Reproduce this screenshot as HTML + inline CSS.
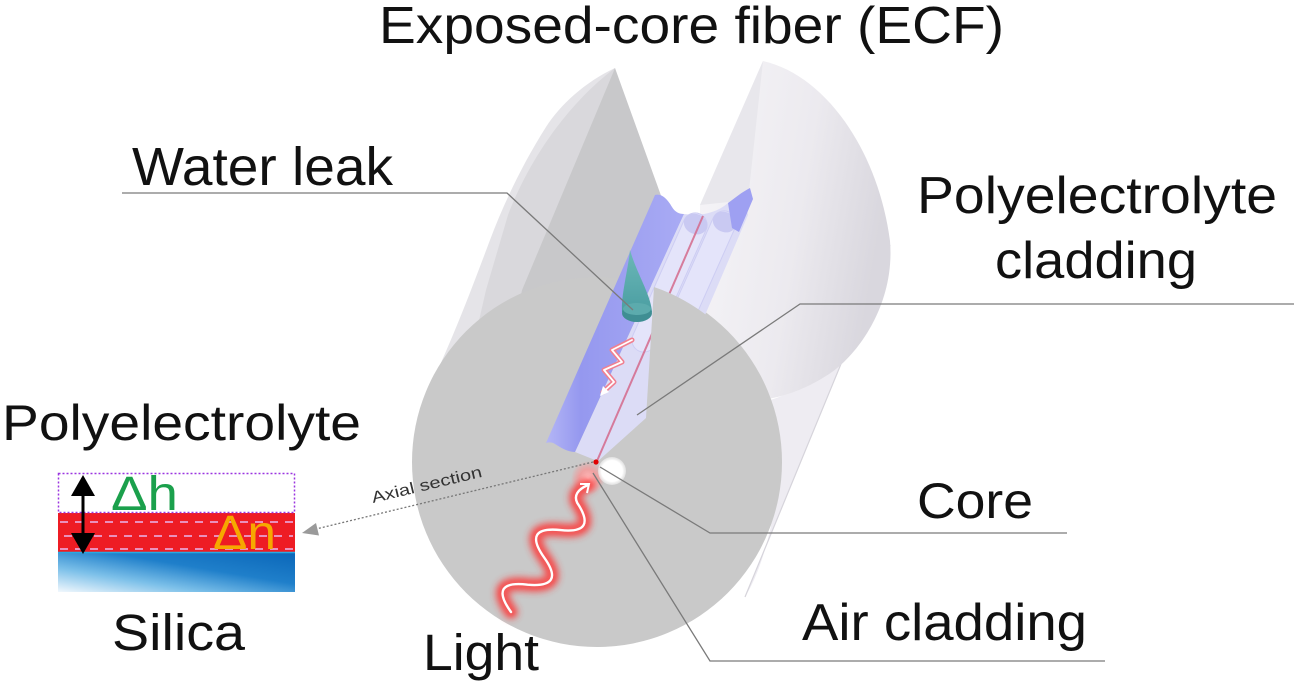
<!DOCTYPE html>
<html><head><meta charset="utf-8"><style>
html,body{margin:0;padding:0;background:#fff;}
svg{display:block;}
text{font-family:"Liberation Sans",Arial,sans-serif;fill:#111;}
</style></head><body>
<svg width="1299" height="688" viewBox="0 0 1299 688" xmlns="http://www.w3.org/2000/svg">
<defs>
<linearGradient id="lobe" x1="0" y1="0" x2="1" y2="0.3">
<stop offset="0" stop-color="#f6f5f8"/><stop offset="0.6" stop-color="#eceaef"/><stop offset="1" stop-color="#d9d7de"/>
</linearGradient>
<linearGradient id="blue" x1="0" y1="0" x2="1" y2="0">
<stop offset="0" stop-color="#b4b6f6"/><stop offset="0.25" stop-color="#9598ef"/><stop offset="1" stop-color="#a9abf4"/>
</linearGradient>
<linearGradient id="drop" x1="0" y1="0" x2="0" y2="1">
<stop offset="0" stop-color="#6cb8b8"/><stop offset="1" stop-color="#4b9ea2"/>
</linearGradient>
<linearGradient id="sil" x1="0" y1="1" x2="1" y2="0">
<stop offset="0" stop-color="#f2f8fd"/><stop offset="0.3" stop-color="#7cc0e9"/><stop offset="0.6" stop-color="#1f7fca"/><stop offset="1" stop-color="#0a66b8"/>
</linearGradient>
<radialGradient id="glow" cx="0.5" cy="0.5" r="0.5">
<stop offset="0" stop-color="#ffd0d0"/><stop offset="0.5" stop-color="#ff9090" stop-opacity="0.7"/><stop offset="1" stop-color="#ff8080" stop-opacity="0"/>
</radialGradient>
<radialGradient id="core" cx="0.5" cy="0.5" r="0.5">
<stop offset="0" stop-color="#ffffff"/><stop offset="0.75" stop-color="#ffffff"/><stop offset="1" stop-color="#f0f0f0" stop-opacity="0.6"/>
</radialGradient>
<filter id="blur" x="-20%" y="-20%" width="140%" height="140%"><feGaussianBlur stdDeviation="3.5"/></filter>
<filter id="blur2" x="-20%" y="-20%" width="140%" height="140%"><feGaussianBlur stdDeviation="1.5"/></filter>
</defs>

<!-- left envelope -->
<path d="M615,68 C585,82 560,105 546,127 C525,160 505,200 490,240 C475,280 460,320 440,365 L424,400 L600,430 Z" fill="#e5e4e8"/>
<path d="M615,68 L522,290 L505,345 L470,360 L486,290 L508,215 C525,170 560,110 615,68 Z" fill="#d9d8dc"/>
<!-- left notch wall -->
<path d="M615,68 L668,215 L600,450 L500,380 L512,330 L522,290 Z" fill="#c8c8ca"/>

<!-- right envelope band -->
<path d="M890,245 L745,597 C762,570 776,520 780,460 L776,420 L770,400 C800,392 845,360 880,305 Z" fill="#eeecf2"/>
<line x1="890" y1="245" x2="745" y2="597" stroke="#d6d4db" stroke-width="1.2"/>
<!-- right lobe -->
<path d="M763,61 C825,75 878,150 890,241 C895,300 862,350 832,372 C806,390 780,398 760,400 L700,330 L700,205 Z" fill="url(#lobe)"/>
<path d="M763,61 L700,205 L748,200 Z" fill="#e8e7ec"/>

<!-- front disk -->
<circle cx="597" cy="462" r="185" fill="#c9c9c9"/>

<!-- groove: lavender -->
<path d="M684,214 C700,216 715,214 728,203 L745,196 L748,215 L660,420 L600,462 L590,458 L575,452 Z" fill="#dcdcf6"/>
<!-- tubes -->
<g transform="translate(700,214) rotate(24)"><rect x="-12" y="0" width="24" height="150" rx="12" fill="#e4e4fa" stroke="#cdcdf3" stroke-width="1"/><ellipse cx="0" cy="11" rx="12" ry="10" fill="#c9c9f2"/></g>
<g transform="translate(729,212) rotate(24)"><rect x="-12" y="0" width="24" height="150" rx="12" fill="#e4e4fa" stroke="#cdcdf3" stroke-width="1"/><ellipse cx="0" cy="11" rx="12" ry="10" fill="#c9c9f2"/></g>
<!-- right blue lip -->
<path d="M728,203 C735,198 742,192 750,188 L753,199 L739,232 L732,228 Z" fill="#9ea0f2"/>
<!-- blue wall -->
<path d="M546,443 L655,195 C662,193 668,200 672,207 C675,212 679,214 684,214 L575,452 C567,452 560,447 555,444 C552,442 549,442 546,443 Z" fill="url(#blue)"/>
<!-- core line -->
<line x1="597" y1="461" x2="703" y2="216" stroke="#d46a8c" stroke-width="2" opacity="0.85"/>

<!-- disk right piece -->
<path d="M597,462 L646,418 L654,287 A185,185 0 0 1 597,647 Z" fill="#c9c9c9"/>

<!-- water drop -->
<path d="M630,250 C628,270 621,295 622,312 L652,312 C651,295 636,272 630,250 Z" fill="url(#drop)"/>
<ellipse cx="637" cy="313" rx="15" ry="9" fill="#3f8e93"/>
<ellipse cx="637" cy="309" rx="14" ry="6" fill="#5cabad"/>

<!-- small wave in groove -->
<g fill="none" stroke-linecap="round" stroke-linejoin="round">
<path d="M603,392 L614,382 L604,370 L622,362 L612,350 L632,340" stroke="#f08090" stroke-width="5"/>
<path d="M603,392 L614,382 L604,370 L622,362 L612,350 L632,340" stroke="#fff" stroke-width="1.8"/>
</g>
<polygon points="600,396 603,386 609,392" fill="#fff"/>

<!-- core region -->
<circle cx="588" cy="478" r="17" fill="url(#glow)"/>
<circle cx="612" cy="471" r="14" fill="url(#core)"/>
<circle cx="596" cy="462" r="2.6" fill="#e00000"/>

<!-- light wave -->
<g fill="none" stroke-linecap="round" stroke-linejoin="round">
<path d="M511,612 Q488,580 527.6,584.7 Q566,588 544.1,557.4 Q522,526 560.7,530.1 Q598,534 577.2,502.8 Q572,492 588,485" stroke="#ff3030" stroke-width="14" opacity="0.75" filter="url(#blur)"/>
<path d="M511,612 Q488,580 527.6,584.7 Q566,588 544.1,557.4 Q522,526 560.7,530.1 Q598,534 577.2,502.8 Q572,492 588,485" stroke="#f25a5a" stroke-width="7" filter="url(#blur2)"/>
<path d="M511,612 Q488,580 527.6,584.7 Q566,588 544.1,557.4 Q522,526 560.7,530.1 Q598,534 577.2,502.8 Q572,492 588,485" stroke="#ffffff" stroke-width="2.4"/>
</g>
<polyline points="580,484 589,484 587,493" fill="none" stroke="#fff" stroke-width="2"/>

<!-- axial section -->
<line x1="593" y1="462" x2="316" y2="529" stroke="#777" stroke-width="1.3" stroke-dasharray="2 2"/>
<polygon points="302,533 319,535.5 316,523" fill="#9a9a9a"/>
<text x="373" y="503" font-size="16" textLength="113" lengthAdjust="spacingAndGlyphs" transform="rotate(-13.5 373 503)" style="fill:#333">Axial section</text>

<!-- connectors -->
<g fill="none" stroke="#7a7a7a" stroke-width="1.3">
<polyline points="122,193 507,193 633,310"/>
<polyline points="1294,304 800,304 637,415"/>
<polyline points="1067,533 710,533 600,467"/>
<polyline points="1105,661 710,661 593,473"/>
</g>

<!-- layer diagram -->
<rect x="58" y="513" width="237" height="39" fill="#ee1c24"/>
<g stroke="#e8b6ee" stroke-width="1.5" stroke-dasharray="8 7">
<line x1="60" y1="522" x2="293" y2="522"/>
<line x1="64" y1="536" x2="293" y2="536"/>
<line x1="60" y1="549" x2="293" y2="549"/>
</g>
<rect x="58" y="552" width="237" height="40" fill="url(#sil)"/>
<line x1="58" y1="552.5" x2="295" y2="552.5" stroke="#2aa9e0" stroke-width="1.5"/>
<rect x="58.5" y="473.5" width="236" height="39" fill="none" stroke="#9b35e0" stroke-width="1.5" stroke-dasharray="2 2"/>
<line x1="83" y1="490" x2="83" y2="540" stroke="#000" stroke-width="3"/>
<polygon points="83,475 71,496 95,496" fill="#000"/>
<polygon points="83,554 71,533 95,533" fill="#000"/>
<text x="111" y="510" font-size="48" textLength="67" lengthAdjust="spacingAndGlyphs" style="fill:#1ba04c">Δh</text>
<text x="213" y="549" font-size="48" textLength="63" lengthAdjust="spacingAndGlyphs" style="fill:#f6a800">Δn</text>

<!-- labels -->
<text x="379" y="43" font-size="52" textLength="625" lengthAdjust="spacingAndGlyphs">Exposed-core fiber (ECF)</text>
<text x="132" y="185" font-size="54" textLength="261" lengthAdjust="spacingAndGlyphs">Water leak</text>
<text x="917" y="213" font-size="52" textLength="360" lengthAdjust="spacingAndGlyphs">Polyelectrolyte</text>
<text x="995" y="278" font-size="52" textLength="202" lengthAdjust="spacingAndGlyphs">cladding</text>
<text x="917" y="518" font-size="50" textLength="116" lengthAdjust="spacingAndGlyphs">Core</text>
<text x="802" y="640" font-size="52" textLength="285" lengthAdjust="spacingAndGlyphs">Air cladding</text>
<text x="423" y="670" font-size="51" textLength="116" lengthAdjust="spacingAndGlyphs">Light</text>
<text x="2" y="440" font-size="50" textLength="359" lengthAdjust="spacingAndGlyphs">Polyelectrolyte</text>
<text x="112" y="650" font-size="51" textLength="133" lengthAdjust="spacingAndGlyphs">Silica</text>
</svg>
</body></html>
